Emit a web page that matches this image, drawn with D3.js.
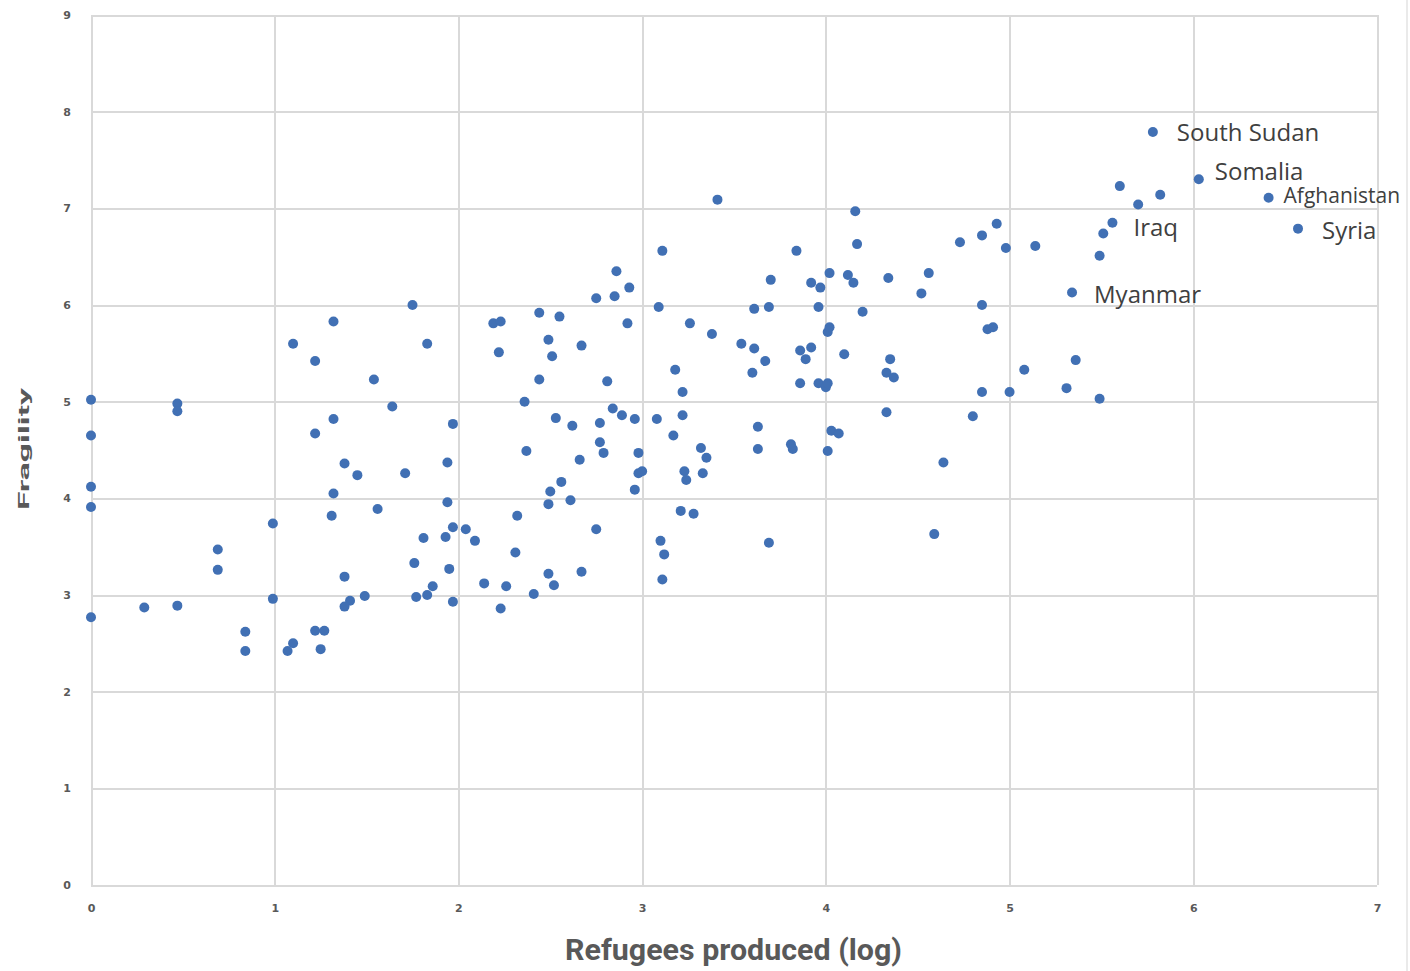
<!DOCTYPE html>
<meta charset="utf-8">
<style>

html,body {
  overflow:hidden;
  padding:0px;
  margin: 0px;
  background-color:white;
}

.tick text {
  fill: #595959;
  font-family: "DejaVu Sans", sans-serif;
  font-weight: bold;
  font-size: 11px;
}

.grid line {
  stroke: #d9d9d9;
  stroke-width: 2px;
  shape-rendering: crispEdges;
}

.dot {
  fill: #4170b4;
}

.label {
  font-family: "Open Sans", "DejaVu Sans", sans-serif;
  fill: #404040;
}

</style>
<body>
<svg></svg>
</body>
<script src="https://cdn.jsdelivr.net/npm/d3@7"></script>
<script>

// refugees produced (log) and fragility
var refugees = [
  0,0,0,0,0,0.29,0.47,0.47,0.47,0.69,0.69,0.84,0.84,0.99,0.99,1.07,1.10,1.10,1.22,1.27,
  1.25,1.22,1.22,1.32,1.32,1.32,1.31,1.38,1.38,1.41,1.38,1.45,1.49,1.54,1.56,1.64,1.71,1.75,1.76,1.77,
  1.81,1.83,1.83,1.86,1.93,1.94,1.94,1.95,1.97,1.97,1.97,2.04,2.09,2.14,2.19,2.23,2.22,2.23,2.26,2.31,
  2.32,2.36,2.37,2.41,2.44,2.44,2.49,2.51,2.49,2.50,2.49,2.52,2.53,2.55,2.56,2.61,2.62,2.66,2.67,2.67,
  2.75,2.75,2.77,2.77,2.79,2.81,2.84,2.85,2.86,2.89,2.92,2.93,2.96,2.96,2.98,2.98,3.00,3.08,3.09,3.10,
  3.11,3.11,3.12,3.17,3.18,3.21,3.22,3.22,3.23,3.24,3.26,3.28,3.32,3.33,3.35,3.38,3.41,3.54,3.60,3.61,
  3.61,3.63,3.63,3.67,3.69,3.69,3.70,3.81,3.82,3.84,3.86,3.86,3.89,3.92,3.92,3.96,3.96,3.97,4.00,4.01,
  4.01,4.01,4.02,4.02,4.03,4.07,4.10,4.12,4.15,4.16,4.17,4.20,4.33,4.33,4.34,4.35,4.37,4.52,4.56,4.59,
  4.64,4.73,4.80,4.85,4.85,4.85,4.88,4.91,4.93,4.98,5.00,5.08,5.14,5.31,5.36,5.49,5.49,5.51,5.60,5.70,
  5.82
];
var fragility = [
  5.02,4.65,4.12,3.91,2.77,2.87,4.98,4.90,2.89,3.47,3.26,2.62,2.42,3.74,2.96,2.42,2.50,5.60,2.63,2.63,
  2.44,5.42,4.67,5.83,4.82,4.05,3.82,4.36,3.19,2.94,2.88,4.24,2.99,5.23,3.89,4.95,4.26,6.00,3.33,2.98,
  3.59,5.60,3.00,3.09,3.60,4.37,3.96,3.27,4.77,3.70,2.93,3.68,3.56,3.12,5.81,5.83,5.51,2.86,3.09,3.44,
  3.82,5.00,4.49,3.01,5.92,5.23,5.64,5.47,3.94,4.07,3.22,3.10,4.83,5.88,4.17,3.98,4.75,4.40,5.58,3.24,
  6.07,3.68,4.78,4.58,4.47,5.21,4.93,6.09,6.35,4.86,5.81,6.18,4.82,4.09,4.47,4.26,4.28,4.82,5.98,3.56,
  6.56,3.16,3.42,4.65,5.33,3.87,5.10,4.86,4.28,4.19,5.81,3.84,4.52,4.26,4.42,5.70,7.09,5.60,5.30,5.96,
  5.55,4.74,4.51,5.42,5.98,3.54,6.26,4.56,4.51,6.56,5.53,5.19,5.44,5.56,6.23,5.98,5.19,6.18,5.15,5.19,
  5.72,4.49,5.77,6.33,4.70,4.67,5.49,6.31,6.23,6.97,6.63,5.93,5.30,4.89,6.28,5.44,5.25,6.12,6.33,3.63,
  4.37,6.65,4.85,6.72,6.00,5.10,5.75,5.77,6.84,6.59,5.10,5.33,6.61,5.14,5.43,6.51,5.03,6.74,7.23,7.04,
  7.14
];

// named countries
var labelNames = ["South Sudan", "Somalia", "Afghanistan", "Iraq", "Syria", "Myanmar"];
var labelRefugees = [5.78, 6.03, 6.41, 5.56, 6.57, 5.34];
var labelFragility = [7.79, 7.30, 7.11, 6.85, 6.79, 6.13];

var xTicks = [0, 1, 2, 3, 4, 5, 6, 7];
var yTicks = [0, 1, 2, 3, 4, 5, 6, 7, 8, 9];

var W = 1410, H = 971;
var svg = d3.select("svg").attr("width", W).attr("height", H);

var x = d3.scaleLinear().domain([0, 7]).range([91, 1377]);
var y = d3.scaleLinear().domain([0, 9]).range([885, 15]);

// outer chart border on the right
svg.append("line")
  .attr("x1", 1407).attr("x2", 1407).attr("y1", 0).attr("y2", H)
  .attr("stroke", "#e3e3e3").attr("stroke-width", 1.5);

// gridlines
svg.append("g").attr("class", "grid")
  .attr("transform", "translate(0," + y(0) + ")")
  .call(d3.axisBottom(x).tickValues(xTicks).tickSize(-(y(0) - y(9))).tickFormat(""))
  .call(function(g) { g.select(".domain").remove(); });

svg.append("g").attr("class", "grid")
  .attr("transform", "translate(" + x(0) + ",0)")
  .call(d3.axisLeft(y).tickValues(yTicks).tickSize(-(x(7) - x(0))).tickFormat(""))
  .call(function(g) { g.select(".domain").remove(); });

// tick labels
svg.append("g")
  .attr("transform", "translate(0," + (y(0) + 16) + ")")
  .call(d3.axisBottom(x).tickValues(xTicks).tickSize(0).tickFormat(d3.format("d")))
  .call(function(g) { g.select(".domain").remove(); });

svg.append("g")
  .attr("transform", "translate(" + (x(0) - 17) + ",0)")
  .call(d3.axisLeft(y).tickValues(yTicks).tickSize(0).tickFormat(d3.format("d")))
  .call(function(g) { g.select(".domain").remove(); });

// points
var pts = d3.zip(refugees, fragility).concat(d3.zip(labelRefugees, labelFragility));

svg.append("g").selectAll("circle")
  .data(pts)
  .enter().append("circle")
  .attr("class", "dot")
  .attr("cx", function(d) { return x(d[0]); })
  .attr("cy", function(d) { return y(d[1]); })
  .attr("r", 5);

// country labels
var labelDx = [24, 16, 15, 21, 24, 22];
var labelDy = [1, -8, -2, 5, 2, 2];
var labelSize = [24, 24, 21, 24, 24, 24];

svg.append("g").selectAll("text")
  .data(labelNames)
  .enter().append("text")
  .attr("class", "label")
  .attr("x", function(d, i) { return x(labelRefugees[i]) + labelDx[i]; })
  .attr("y", function(d, i) { return y(labelFragility[i]) + labelDy[i]; })
  .attr("dy", "0.35em")
  .attr("font-size", function(d, i) { return labelSize[i]; })
  .text(function(d) { return d; });

// axis titles
svg.append("text")
  .attr("x", 565).attr("y", 960)
  .attr("textLength", 337)
  .attr("lengthAdjust", "spacingAndGlyphs")
  .attr("font-family", "'Liberation Sans Narrow', 'Roboto', sans-serif")
  .attr("font-weight", "bold")
  .attr("font-size", 29)
  .attr("fill", "#595959")
  .text("Refugees produced (log)");

svg.append("text")
  .attr("transform", "translate(29,510) rotate(-90)")
  .attr("textLength", 122)
  .attr("lengthAdjust", "spacingAndGlyphs")
  .attr("font-family", "'Liberation Sans Narrow', 'Roboto', sans-serif")
  .attr("font-weight", "bold")
  .attr("font-size", 15)
  .attr("fill", "#595959")
  .text("Fragility");

</script>
